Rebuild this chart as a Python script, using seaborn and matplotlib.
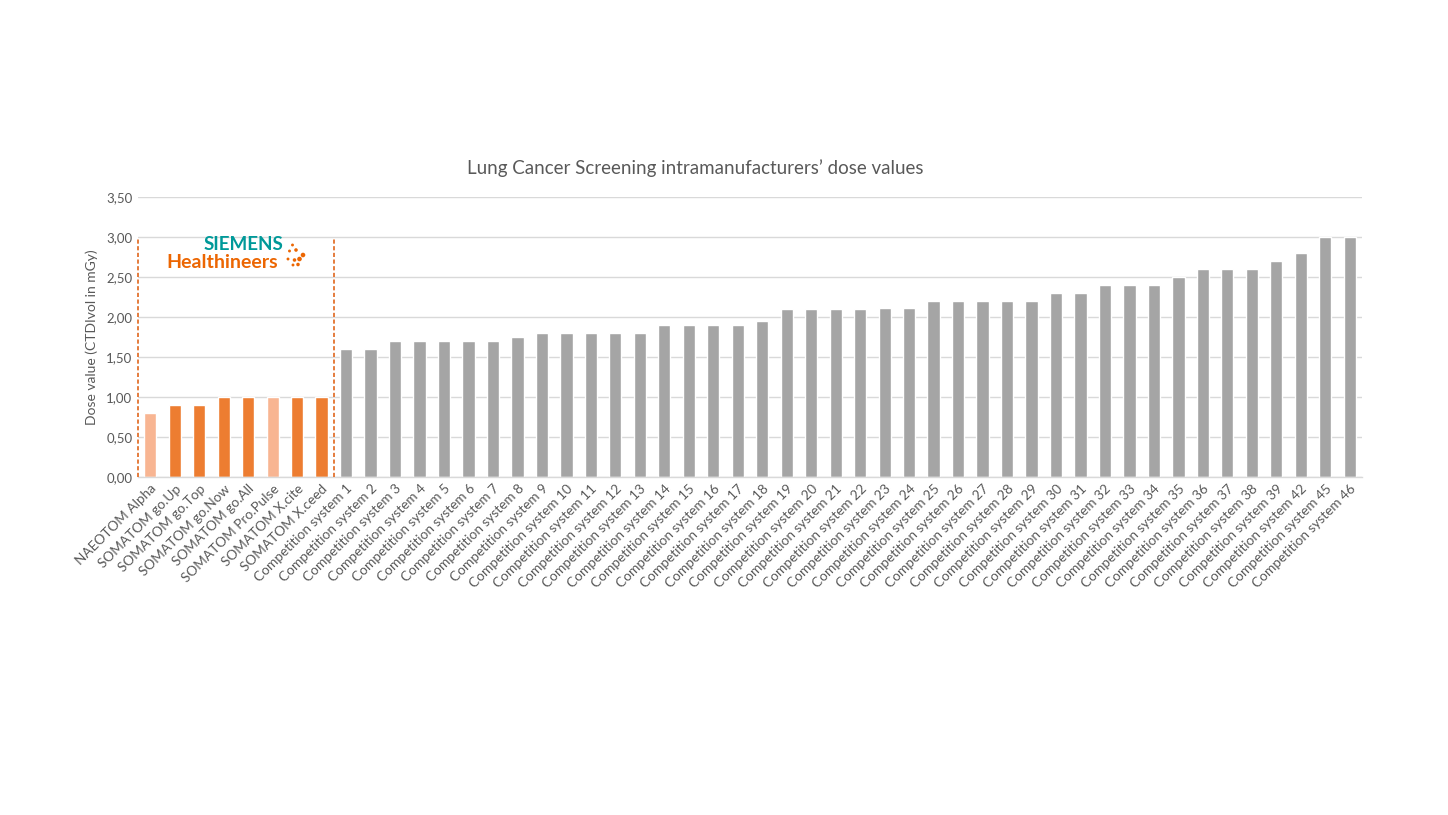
import matplotlib
matplotlib.use("Agg")
import matplotlib.pyplot as plt
import seaborn as sns
import pandas as pd

siemens_names = ["NAEOTOM Alpha", "SOMATOM go.Up", "SOMATOM go.Top", "SOMATOM go.Now",
                 "SOMATOM go.All", "SOMATOM Pro.Pulse", "SOMATOM X.cite", "SOMATOM X.ceed"]
siemens_values = [0.80, 0.90, 0.90, 1.00, 1.00, 1.00, 1.00, 1.00]
siemens_light = [True, False, False, False, False, True, False, False]

competition_ids = list(range(1, 40)) + [42, 45, 46]
competition_values = [1.60, 1.60, 1.70, 1.70, 1.70, 1.70, 1.70, 1.75, 1.80, 1.80,
                      1.80, 1.80, 1.80, 1.90, 1.90, 1.90, 1.90, 1.95, 2.10, 2.10,
                      2.10, 2.10, 2.11, 2.11, 2.20, 2.20, 2.20, 2.20, 2.20, 2.30,
                      2.30, 2.40, 2.40, 2.40, 2.50, 2.60, 2.60, 2.60, 2.70, 2.80,
                      3.00, 3.00]
competition_names = [f"Competition system {i}" for i in competition_ids]

ORANGE = "#ED7D31"
LIGHT_ORANGE = "#F8B592"
GREY = "#A5A5A5"
TEXT = "#595959"

names = siemens_names + competition_names
values = siemens_values + competition_values
colors = [LIGHT_ORANGE if l else ORANGE for l in siemens_light] + [GREY] * len(competition_names)
df = pd.DataFrame({"system": names, "dose": values})

sns.set_theme(style="white")
plt.rcParams["font.family"] = ["Lato", "DejaVu Sans"]

fig = plt.figure(figsize=(14.48, 8.15), dpi=100)
ax = fig.add_axes([138 / 1448, 1 - 477 / 815, (1362 - 138) / 1448, 280 / 815])

sns.barplot(data=df, x="system", y="dose", hue="system", palette=colors,
            legend=False, width=0.5, ax=ax, saturation=1)

ax.set_xlim(-0.5, len(names) - 0.5)
ax.set_ylim(0, 3.5)
ax.set_yticks([i * 0.5 for i in range(8)])
ax.set_yticklabels([f"{i * 0.5:.2f}".replace(".", ",") for i in range(8)],
                   fontsize=9.5, color=TEXT)
ax.set_xticks(range(len(names)))
ax.set_xticklabels(names, rotation=45, ha="right", rotation_mode="anchor",
                   fontsize=9.8, color=TEXT)
ax.tick_params(axis="both", length=0, pad=4)
ax.grid(axis="y", color="#D9D9D9", linewidth=1)
ax.set_axisbelow(True)
for s in ["top", "right", "left"]:
    ax.spines[s].set_visible(False)
ax.spines["bottom"].set_color("#D9D9D9")
ax.spines["bottom"].set_linewidth(1)

ax.set_xlabel("")
ax.set_ylabel("Dose value (CTDIvol in mGy)", fontsize=10, color=TEXT, labelpad=6)
fig.text(0.48, 1 - 168 / 815, "Lung Cancer Screening intramanufacturers\u2019 dose values",
         ha="center", va="center", fontsize=13.5, color=TEXT)

# Siemens bracket
n_s = len(siemens_names)
for xv in [-0.5, n_s - 0.5]:
    ax.plot([xv, xv], [0, 3.0], color="#E0661C", linestyle=(0, (2.5, 1.5)),
            linewidth=1.2, clip_on=False, zorder=3)

# logo
ax.text(3.8, 2.91, "SIEMENS", color="#009999", fontsize=13.5, fontweight="bold",
        ha="center", va="center")
ax.text(2.95, 2.68, "Healthineers", color="#EC6602", fontsize=14, fontweight="bold",
        ha="center", va="center")
dots_px = [(290.5, 245, 2), (287.5, 251, 2), (294, 250, 3), (301, 255, 5),
           (286, 259, 2), (292.5, 260, 3), (297.5, 259, 5), (291, 265, 2), (296, 264.5, 3)]
for px, py, sz in dots_px:
    ax.scatter((px - 136) / 24.48 - 0.5, (477 - py) / 80, s=sz * 2.2, color="#EC6602",
               edgecolors="none", clip_on=False, zorder=4)

fig.savefig("out.png", dpi=100, facecolor="white")
